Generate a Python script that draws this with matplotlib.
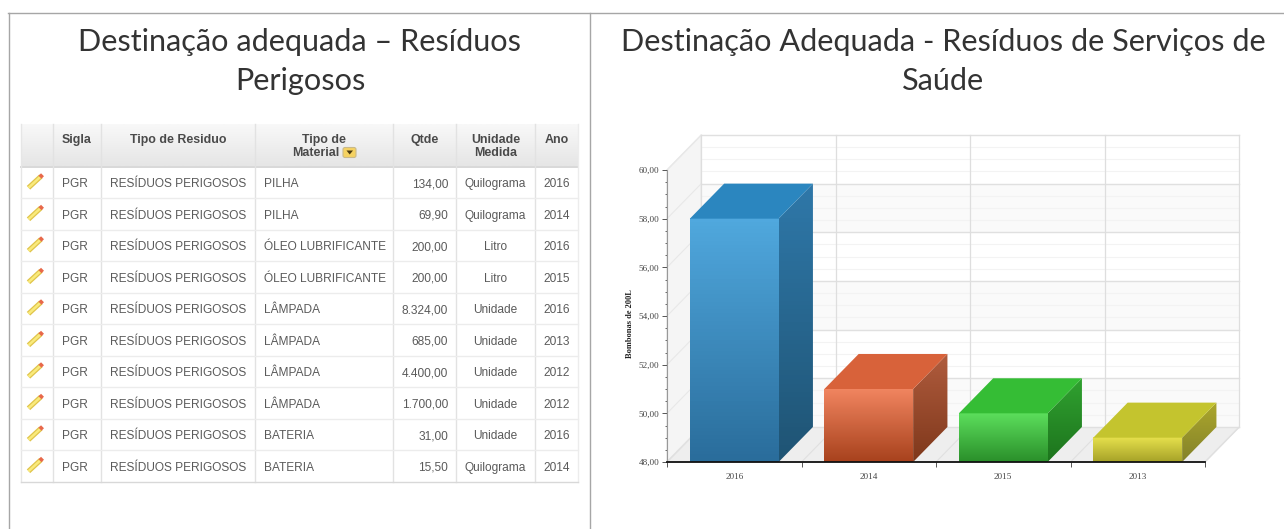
import numpy as np
import matplotlib
matplotlib.use('Agg')
import matplotlib.pyplot as plt
from matplotlib.colors import LinearSegmentedColormap
from matplotlib.patches import Polygon, FancyBboxPatch

W, H = 1284, 529

# table data
table_headers = ['', 'Sigla', 'Tipo de Residuo', 'Tipo de\nMaterial', 'Qtde', 'Unidade\nMedida', 'Ano']
siglas = ['PGR'] * 10
tipos = ['RESÍDUOS PERIGOSOS'] * 10
materiais = ['PILHA', 'PILHA', 'ÓLEO LUBRIFICANTE', 'ÓLEO LUBRIFICANTE', 'LÂMPADA',
             'LÂMPADA', 'LÂMPADA', 'LÂMPADA', 'BATERIA', 'BATERIA']
qtdes = ['134,00', '69,90', '200,00', '200,00', '8.324,00', '685,00', '4.400,00', '1.700,00', '31,00', '15,50']
unidades = ['Quilograma', 'Quilograma', 'Litro', 'Litro', 'Unidade', 'Unidade', 'Unidade', 'Unidade',
            'Unidade', 'Quilograma']
anos = ['2016', '2014', '2016', '2015', '2016', '2013', '2012', '2012', '2016', '2014']

# chart data
anos_chart = ['2016', '2014', '2015', '2013']
bombonas = [58.0, 51.0, 50.0, 49.0]

# layout of the table, in pixels
col_edges = [21, 53, 101, 255, 393, 456, 535, 578]
row_top = 167
row_h = 31.5

TITLE_FONT = dict(family='Lato', weight='normal', color='#333333', fontsize=22.1, ha='center', va='center')
CELL = dict(family='Liberation Sans', fontsize=8.6, color='#5a5a5a', va='center')
HEAD = dict(family='Liberation Sans', fontsize=8.9, color='#4a4a4a', weight='bold', ha='center', va='center')

fig = plt.figure(figsize=(W / 100, H / 100), dpi=100)
bg = fig.add_axes([0, 0, 1, 1])
bg.axis('off')

# frame
bg.plot([8, W], [13, 13], color='#a6a6a6', lw=1)
bg.plot([8.5, 8.5], [13, H], color='#a6a6a6', lw=1)
bg.plot([590, 590], [13, H], color='#a6a6a6', lw=1)

bg.text(300, 42, 'Destinação adequada – Resíduos', **TITLE_FONT)
bg.text(300, 81, 'Perigosos', **TITLE_FONT)
bg.text(943, 42, 'Destinação Adequada - Resíduos de Serviços de', **TITLE_FONT)
bg.text(943, 81, 'Saúde', **TITLE_FONT)

# table header
head_cmap = LinearSegmentedColormap.from_list('head', ['#f8f8f8', '#e6e6e6'])
bg.imshow(np.linspace(0, 1, 32)[:, None], cmap=head_cmap, extent=[21, 578, 166, 124], aspect='auto', zorder=1)
bg.plot([21, 578], [166.5, 166.5], color='#d8d8d8', lw=1.4, zorder=2)
for x in col_edges[1:-1]:
    bg.plot([x, x], [124, 482], color='#e2e2e2', lw=1, zorder=2)
bg.plot([21, 21], [124, 482], color='#e6e6e6', lw=1, zorder=2)
bg.plot([578, 578], [124, 482], color='#ececec', lw=1, zorder=2)
for i in range(1, 11):
    y = row_top + i * row_h - 0.5
    bg.plot([21, 578], [y, y], color='#ececec' if i < 10 else '#d8d8d8', lw=1, zorder=2)

for j, head in enumerate(table_headers):
    if not head:
        continue
    cx = (col_edges[j] + col_edges[j + 1]) / 2
    if j == 3:
        bg.text(cx, 140, 'Tipo de', **HEAD)
        bg.text(cx - 8, 153, 'Material', **HEAD)
        bg.add_patch(FancyBboxPatch((343, 147.5), 13, 10, boxstyle='round,pad=0,rounding_size=2',
                                    fc='#f5d262', ec='#c9b98a', lw=0.8, zorder=3))
        bg.add_patch(Polygon([[346.5, 150.5], [353, 150.5], [349.7, 154.5]], fc='#4a3a10', ec='none', zorder=4))
    elif '\n' in head:
        a, b = head.split('\n')
        bg.text(cx, 140, a, **HEAD)
        bg.text(cx, 153, b, **HEAD)
    else:
        bg.text(cx, 140, head, **HEAD)

for i in range(10):
    y = row_top + (i + 0.5) * row_h
    # pencil icon
    bg.plot([28.5, 41], [y + 5, y - 6.5], color='#e0c44a', lw=3.6, solid_capstyle='butt', zorder=3)
    bg.plot([28.5, 41], [y + 5, y - 6.5], color='#f9ea7c', lw=1.8, solid_capstyle='butt', zorder=3)
    bg.plot([40, 42.5], [y - 5.5, y - 8], color='#e8684a', lw=3, solid_capstyle='butt', zorder=4)
    bg.text(62, y + 1.5, siglas[i], ha='left', **CELL)
    bg.text(110, y + 1.5, tipos[i], ha='left', **CELL)
    bg.text(264, y + 1.5, materiais[i], ha='left', **CELL)
    bg.text(448, y + 1.5, qtdes[i], ha='right', **CELL)
    bg.text(495.5, y + 1.5, unidades[i], ha='center', **CELL)
    bg.text(556.5, y + 1.5, anos[i], ha='center', **CELL)

bg.set_xlim(0, W)
bg.set_ylim(H, 0)

# chart axes: y 48..60 spans pixels 462..170, x covers 4 categories over 667..1205
ax = fig.add_axes([667 / W, (H - 462) / H, 538 / W, 292 / H])
ax.patch.set_alpha(0)
dx = 0.255
dy = 1.44
x_lo, x_hi = 0, len(anos_chart)
y_lo, y_hi = 48, 60

# walls
ax.add_patch(Polygon([[x_lo + dx, y_lo + dy], [x_hi + dx, y_lo + dy], [x_hi + dx, y_hi + dy], [x_lo + dx, y_hi + dy]],
                     fc='white', ec='none', clip_on=False, zorder=0))
ax.add_patch(Polygon([[x_lo, y_lo], [x_lo + dx, y_lo + dy], [x_lo + dx, y_hi + dy], [x_lo, y_hi]],
                     fc='#f5f5f5', ec='#e8e8e8', lw=1, clip_on=False, zorder=0))
ax.add_patch(Polygon([[x_lo, y_lo], [x_lo + dx, y_lo + dy], [x_hi + dx, y_lo + dy], [x_hi, y_lo]],
                     fc='#eeeeee', ec='#e2e2e2', lw=1, clip_on=False, zorder=0))
for v in range(48, 60, 4):
    ax.add_patch(Polygon([[x_lo + dx, v + dy], [x_hi + dx, v + dy], [x_hi + dx, v + 2 + dy], [x_lo + dx, v + 2 + dy]],
                         fc='#fafafa', ec='none', clip_on=False, zorder=0.1))
for v in np.arange(48, 60.5, 0.5):
    major = v % 2 == 0
    ax.plot([x_lo + dx, x_hi + dx], [v + dy, v + dy], color='#e0e0e0' if major else '#f3f3f3',
            lw=1 if major else 0.8, clip_on=False, zorder=0.2)
    if major:
        ax.plot([x_lo, x_lo + dx], [v, v + dy], color='#e8e8e8', lw=0.8, clip_on=False, zorder=0.2)
for c in range(x_lo, x_hi + 1):
    ax.plot([c + dx, c + dx], [y_lo + dy, y_hi + dy], color='#dedede', lw=0.9, clip_on=False, zorder=0.2)
    ax.plot([c, c + dx], [y_lo, y_lo + dy], color='#e0e0e0', lw=0.8, clip_on=False, zorder=0.2)

# bars
bar_w = 0.66
front_cols = [('#50a8de', '#2a6d9b'), ('#f0845f', '#a8421d'), ('#5cde5c', '#2a8f2a'), ('#e6e04c', '#a6a228')]
side_cols = [('#2f78a9', '#1f5474'), ('#b05c3e', '#7f381b'), ('#30a130', '#1d741d'), ('#aca72c', '#84822a')]
top_cols = ['#2b86bf', '#d8623a', '#35bd35', '#c4c42e']
for i, val in enumerate(bombonas):
    l, r = i + 0.5 - bar_w / 2, i + 0.5 + bar_w / 2
    cm_f = LinearSegmentedColormap.from_list('f', front_cols[i])
    cm_s = LinearSegmentedColormap.from_list('s', side_cols[i])
    grad = np.linspace(0, 1, 64)[:, None]
    ax.imshow(grad, cmap=cm_f, extent=[l, r, y_lo, val], aspect='auto', zorder=3 + i, clip_on=False)
    side = Polygon([[r, y_lo], [r + dx, y_lo + dy], [r + dx, val + dy], [r, val]], fc='none', ec='none',
                   clip_on=False)
    ax.add_patch(side)
    im = ax.imshow(grad, cmap=cm_s, extent=[r, r + dx, y_lo, val + dy], aspect='auto', zorder=3 + i)
    im.set_clip_box(fig.bbox)
    im.set_clip_path(side)
    ax.add_patch(Polygon([[l, val], [r, val], [r + dx, val + dy], [l + dx, val + dy]], fc=top_cols[i], ec='none',
                         clip_on=False, zorder=3 + i))

ax.set_xlim(x_lo, x_hi)
ax.set_ylim(y_lo, y_hi)

ax.spines['top'].set_visible(False)
ax.spines['right'].set_visible(False)
ax.spines['left'].set_color('#999999')
ax.spines['bottom'].set_color('#111111')
ax.spines['bottom'].set_linewidth(1.3)
ax.spines['bottom'].set_zorder(20)

ax.set_yticks(np.arange(48, 61, 2))
ax.set_yticklabels(['48,00', '50,00', '52,00', '54,00', '56,00', '58,00', '60,00'],
                   family='Liberation Serif', fontsize=6.6, color='#444444')
ax.set_yticks(np.arange(48, 60.5, 0.5), minor=True)
ax.tick_params(axis='y', which='major', length=3.5, width=0.7, color='#555555', pad=2)
ax.tick_params(axis='y', which='minor', length=1.5, width=0.6, color='#555555')
ax.set_xticks(range(x_lo, x_hi + 1))
ax.set_xticklabels([])
ax.tick_params(axis='x', length=3.5, width=0.7, color='#555555')
for i, lab in enumerate(anos_chart):
    ax.annotate(lab, (i + 0.5, y_lo), xytext=(0, -10.5), textcoords='offset points', ha='center', va='center',
                family='Liberation Serif', fontsize=6.6, color='#444444')
ax.set_ylabel('Bombonas de 200L', family='Liberation Serif', weight='bold', fontsize=6, color='#222222')
ax.yaxis.set_label_coords((634 - 667) / 538, (462 - 324) / 292)

fig.savefig('out.png', dpi=100)
